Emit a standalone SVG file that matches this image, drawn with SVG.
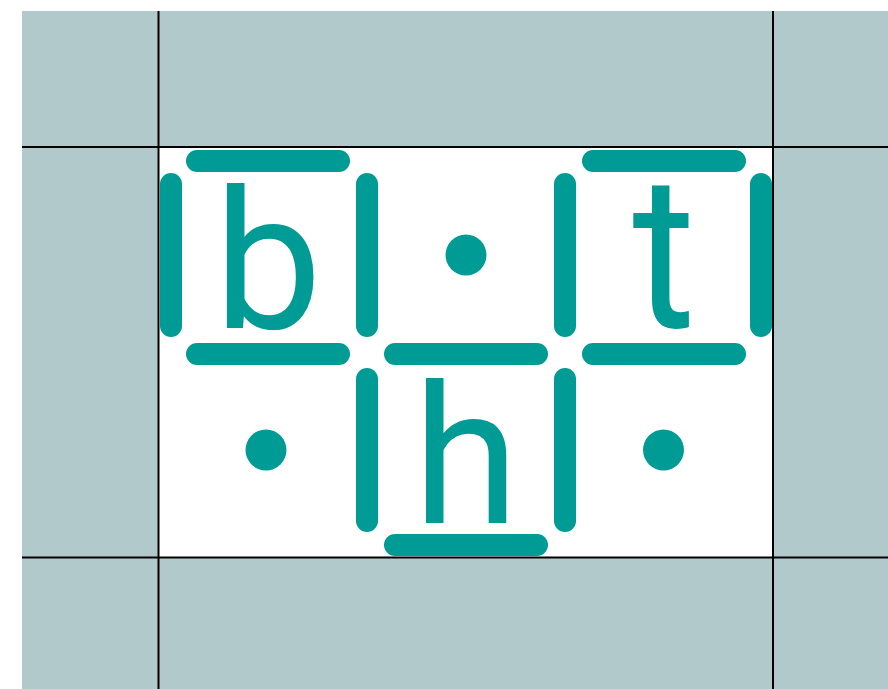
<svg xmlns="http://www.w3.org/2000/svg" width="888" height="689" viewBox="0 0 888 689">
<style>
.bar{stroke:#009b95;stroke-width:22;stroke-linecap:round;fill:none}
.dot{fill:#009b95}
.grid{stroke:#000;stroke-width:2}
.lt{font-family:Roboto,"Open Sans",sans-serif;font-size:193px;fill:#009b95;text-anchor:middle}
</style>
<rect x="0" y="0" width="888" height="689" fill="#fff"/>
<rect x="22" y="11" width="866" height="678" fill="#b1c9cb"/>
<rect x="159" y="147" width="614" height="410" fill="#fff"/>
<g id="grid">
<line class="grid" x1="158.5" y1="11" x2="158.5" y2="689"/>
<line class="grid" x1="773" y1="11" x2="773" y2="689"/>
<line class="grid" x1="22" y1="147" x2="888" y2="147"/>
<line class="grid" x1="22" y1="557.5" x2="888" y2="557.5"/>
</g>
<g id="bars">
<line class="bar" x1="197" y1="161" x2="339" y2="161"/>
<line class="bar" x1="593" y1="161" x2="735" y2="161"/>
<line class="bar" x1="197" y1="354" x2="339" y2="354"/>
<line class="bar" x1="395" y1="354" x2="537" y2="354"/>
<line class="bar" x1="593" y1="354" x2="735" y2="354"/>
<line class="bar" x1="395" y1="545" x2="537" y2="545"/>
<line class="bar" x1="171" y1="184" x2="171" y2="326"/>
<line class="bar" x1="367" y1="184" x2="367" y2="326"/>
<line class="bar" x1="565" y1="184" x2="565" y2="326"/>
<line class="bar" x1="761" y1="184" x2="761" y2="326"/>
<line class="bar" x1="367" y1="379" x2="367" y2="521"/>
<line class="bar" x1="565" y1="379" x2="565" y2="521"/>
</g>
<g id="cell-b"><text class="lt" x="268" y="328">b</text></g>
<g id="cell-dot1"><circle class="dot" cx="466" cy="255" r="20.5"/></g>
<g id="cell-t"><text class="lt" transform="translate(664,327) scale(1,1.12)" x="0" y="0">t</text></g>
<g id="cell-dot2"><circle class="dot" cx="266" cy="450" r="20.5"/></g>
<g id="cell-h"><text class="lt" x="466" y="523">h</text></g>
<g id="cell-dot3"><circle class="dot" cx="663.5" cy="450" r="20.5"/></g>
</svg>
